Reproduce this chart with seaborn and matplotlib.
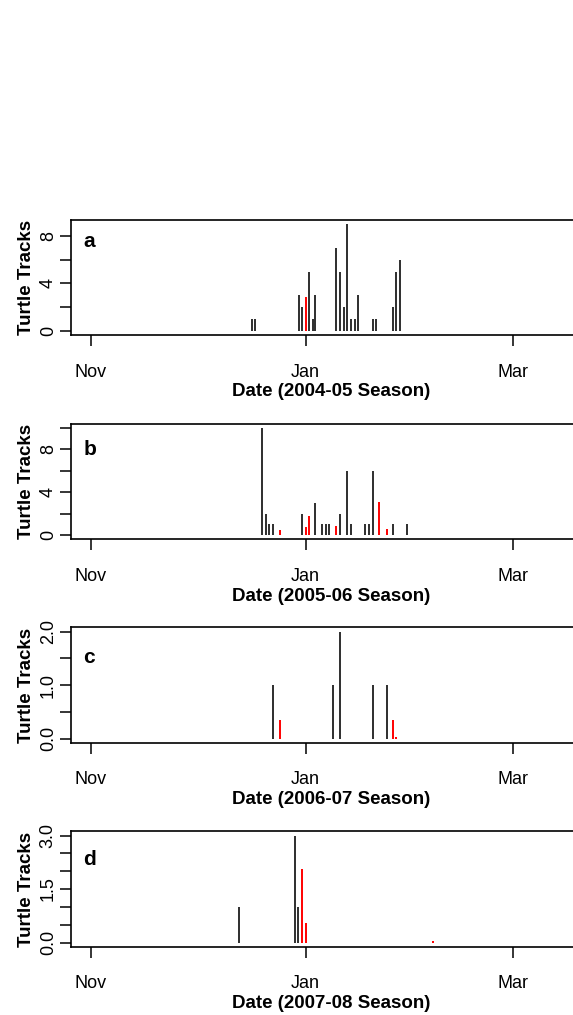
import matplotlib
matplotlib.use("Agg")
from matplotlib import pyplot as plt
import seaborn as sns
import pandas as pd

sns.set_theme(style="ticks")
plt.rcParams["font.family"] = ["Liberation Sans", "DejaVu Sans"]
plt.rcParams["text.color"] = "black"
plt.rcParams["axes.labelcolor"] = "black"
plt.rcParams["xtick.color"] = "black"
plt.rcParams["ytick.color"] = "black"

# days counted from 1 January of each season
seasons = ["2004-05", "2005-06", "2006-07", "2007-08"]
letters = ["a", "b", "c", "d"]

black_days_a = [-15.3, -14.3, -2.0, -0.9, 1.0, 2.0, 2.6, 8.7, 9.7, 10.8, 11.8,
                12.8, 13.9, 14.9, 19.0, 20.0, 24.7, 25.8, 26.8]
black_tracks_a = [1, 1, 3, 2, 5, 1, 3, 7, 5, 2, 9, 1, 1, 3, 1, 1, 2, 5, 6]
red_days_a = [0.0]
red_tracks_a = [2.85]

black_days_b = [-12.4, -11.3, -10.3, -9.2, -0.9, 2.6, 4.6, 5.7, 6.7, 9.7, 11.8,
                12.8, 16.9, 17.9, 19.0, 24.7, 28.9]
black_tracks_b = [10, 2, 1, 1, 2, 3, 1, 1, 1, 2, 6, 1, 1, 1, 6, 1, 1]
red_days_b = [-7.2, 0.0, 1.0, 8.7, 20.9, 23.2]
red_tracks_b = [0.45, 0.75, 1.8, 0.8, 3.1, 0.6]

black_days_c = [-9.25, 7.7, 9.7, 19.1, 23.1]
black_tracks_c = [1, 1, 2, 1, 1]
red_days_c = [-7.2, 24.7, 25.7]
red_tracks_c = [0.35, 0.35, 0.03]

black_days_d = [-19.0, -3.0, -2.1]
black_tracks_d = [1, 3, 1]
red_days_d = [-1.0, 0.0, 36.1]
red_tracks_d = [2.05, 0.55, 0.03]

month_days = [-61, 0, 59]
month_labels = ["Nov", "Jan", "Mar"]

y_ticks = [[0, 2, 4, 6, 8], [0, 2, 4, 6, 8, 10],
           [0, 0.5, 1.0, 1.5, 2.0], [0, 0.5, 1.0, 1.5, 2.0, 2.5, 3.0]]
y_ticklabels = [["0", "", "4", "", "8"], ["0", "", "4", "", "8", ""],
                ["0.0", "", "1.0", "", "2.0"], ["0.0", "", "", "1.5", "", "", "3.0"]]
y_max = [9, 10, 2, 3]

blacks = [(black_days_a, black_tracks_a), (black_days_b, black_tracks_b),
          (black_days_c, black_tracks_c), (black_days_d, black_tracks_d)]
reds = [(red_days_a, red_tracks_a), (red_days_b, red_tracks_b),
        (red_days_c, red_tracks_c), (red_days_d, red_tracks_d)]

W, H = 573, 1015
fig = plt.figure(figsize=(W / 100, H / 100), dpi=100)

tops = [219.7, 423.8, 627.3, 831.3]
box_h = 115.5
left, right = 70.7, 591
letter_y = [0.766, 0.731, 0.69, 0.709]

for i in range(4):
    ax = fig.add_axes([left / W, 1 - (tops[i] + box_h) / H, (right - left) / W, box_h / H])
    black = pd.DataFrame({"day": blacks[i][0], "tracks": blacks[i][1]})
    red = pd.DataFrame({"day": reds[i][0], "tracks": reds[i][1]})
    ax.vlines(black["day"], 0, black["tracks"], color="black", linewidth=1.15)
    ax.vlines(red["day"], 0, red["tracks"], color="#ff0000", linewidth=1.4)

    ax.set_xlim(-66.65, 81)
    ax.set_ylim(-0.04 * y_max[i], 1.04 * y_max[i])
    ax.set_xticks(month_days)
    ax.set_xticklabels(month_labels)
    ax.set_yticks(y_ticks[i])
    ax.set_yticklabels(y_ticklabels[i], rotation=90, va="center")
    ax.tick_params(axis="x", length=8, width=1.1, pad=12.5, labelsize=13)
    ax.tick_params(axis="y", length=8, width=1.1, pad=2, labelsize=13)
    for s in ax.spines.values():
        s.set_linewidth(1.2)
        s.set_color("black")
    ax.set_facecolor("white")
    ax.set_xlabel("Date (" + seasons[i] + " Season)", fontsize=13.5, fontweight="bold", labelpad=2)
    ax.set_ylabel("Turtle Tracks", fontsize=13.5, fontweight="bold", labelpad=3.5)
    ax.text(0.024, letter_y[i], letters[i], transform=ax.transAxes, fontsize=15,
            fontweight="bold", ha="left", va="baseline")

fig.savefig("out.png", dpi=100, facecolor="white")
